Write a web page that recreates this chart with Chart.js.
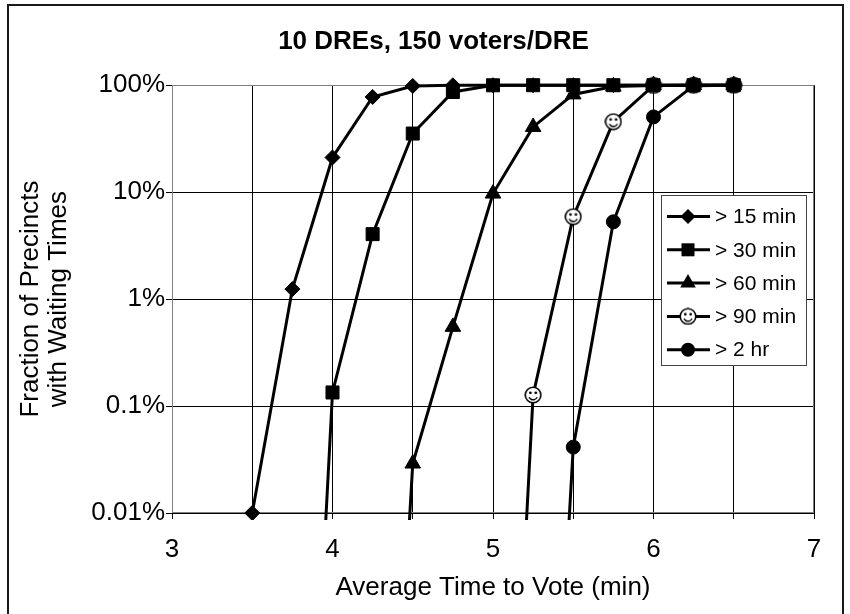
<!DOCTYPE html>
<html><head><meta charset="utf-8">
<script src="https://cdn.jsdelivr.net/npm/chart.js@4/dist/chart.umd.min.js"></script>
<style>html,body{margin:0;padding:0;background:#fff}#wrap{width:850px;height:614px}</style>
</head><body><div id="wrap"><canvas id="c" width="850" height="614"></canvas></div>
<script>
// ---- data ----
const titleText = '10 DREs, 150 voters/DRE';
const xTitle = 'Average Time to Vote (min)';
const yTitle = ['Fraction of Precincts', 'with Waiting Times'];
const seriesNames = ['> 15 min', '> 30 min', '> 60 min', '> 90 min', '> 2 hr'];
const x15 = [3.5, 3.75, 4.0, 4.25, 4.5, 4.75, 5.0, 5.25, 5.5, 5.75, 6.0, 6.25, 6.5];
const y15 = [0.01, 1.24, 21.1, 77.6, 98.4, 99.8, 100, 100, 100, 100, 100, 100, 100];
const x30 = [3.75, 4.0, 4.25, 4.5, 4.75, 5.0, 5.25, 5.5, 5.75, 6.0, 6.25, 6.5];
const y30 = [1e-8, 0.134, 4.05, 35.3, 86.4, 99.8, 100, 100, 100, 100, 100, 100];
const x60 = [4.25, 4.5, 4.75, 5.0, 5.25, 5.5, 5.75, 6.0, 6.25, 6.5];
const y60 = [1e-8, 0.029, 0.55, 9.7, 40.7, 82, 97, 99.5, 100, 100];
const x90 = [5.0, 5.25, 5.5, 5.75, 6.0, 6.25, 6.5];
const y90 = [1e-8, 0.127, 5.9, 45.6, 99.5, 100, 100];
const x120 = [5.25, 5.5, 5.75, 6.0, 6.25, 6.5];
const y120 = [1e-8, 0.0413, 5.28, 50.5, 99, 100];
const xTickValues = [3, 3.5, 4, 4.5, 5, 5.5, 6, 6.5, 7];
const xTickLabels = ['3', '', '4', '', '5', '', '6', '', '7'];
const yTickValues = [0.01, 0.1, 1, 10, 100];
const yTickLabels = ['0.01%', '0.1%', '1%', '10%', '100%'];

// ---- styling ----
const FONT = "'Liberation Sans', Arial, sans-serif";

function makeSmiley(d) {
  const c = document.createElement('canvas');
  c.width = d; c.height = d;
  const g = c.getContext('2d');
  const r = d / 2;
  g.beginPath(); g.arc(r, r, r - 1.2, 0, 2 * Math.PI);
  g.fillStyle = '#fff'; g.fill();
  g.lineWidth = 1.6; g.strokeStyle = '#000'; g.stroke();
  g.fillStyle = '#000';
  g.beginPath(); g.arc(r - 2.7, r - 2.2, 1.4, 0, 2 * Math.PI); g.fill();
  g.beginPath(); g.arc(r + 2.7, r - 2.2, 1.4, 0, 2 * Math.PI); g.fill();
  g.beginPath(); g.arc(r, r + 0.2, r * 0.5, 0.15 * Math.PI, 0.85 * Math.PI);
  g.lineWidth = 1.5; g.stroke();
  return c;
}
const smiley = makeSmiley(18);

const styles = [
  {style: 'rectRot', radius: 7.5},
  {style: 'rect', radius: 9.2},
  {style: 'triangle', radius: 9},
  {style: smiley, radius: 9},
  {style: 'circle', radius: 7}
];
const xs = [x15, x30, x60, x90, x120];
const ys = [y15, y30, y60, y90, y120];

const datasets = seriesNames.map((name, k) => ({
  label: name,
  data: xs[k].map((x, i) => ({x: x, y: ys[k][i]})),
  borderColor: '#000',
  backgroundColor: '#000',
  borderWidth: 3,
  tension: 0,
  pointStyle: styles[k].style,
  pointRadius: styles[k].radius,
  pointBackgroundColor: '#000',
  pointBorderColor: '#000',
  pointBorderWidth: 1,
  clip: {left: 12, top: 12, right: 12, bottom: 7}
}));

const framePlugin = {
  id: 'frame',
  beforeDraw(chart) {
    const ctx = chart.ctx;
    ctx.save();
    ctx.fillStyle = '#fff';
    ctx.fillRect(0, 0, chart.width, chart.height);
    ctx.restore();
  },
  beforeDatasetsDraw(chart) {
    const {ctx, chartArea: a} = chart;
    ctx.save();
    ctx.strokeStyle = '#808080';
    ctx.lineWidth = 1;
    const l = Math.round(a.left) + 0.5, t = Math.round(a.top) + 0.5;
    const r = Math.round(a.right) - 0.5, b = Math.round(a.bottom) - 0.5;
    ctx.strokeRect(l, t, r - l, b - t);
    ctx.restore();
  },
  afterDraw(chart) {
    const ctx = chart.ctx;
    ctx.save();
    // outer frame
    ctx.strokeStyle = '#1a1a1a';
    ctx.lineWidth = 2;
    ctx.strokeRect(8, 5, 835, 640);
    // legend box
    const lx = 661, ly = 195, lw = 145, lh = 170;
    ctx.fillStyle = '#fff';
    ctx.fillRect(lx, ly, lw, lh);
    ctx.strokeStyle = '#444';
    ctx.lineWidth = 1;
    ctx.strokeRect(lx + 0.5, ly + 0.5, lw, lh);
    chart.data.datasets.forEach((ds, k) => {
      const cy = 216.5 + k * 33.3;
      const cx = 688;
      ctx.strokeStyle = '#000';
      ctx.lineWidth = 3;
      ctx.beginPath(); ctx.moveTo(667, cy); ctx.lineTo(710, cy); ctx.stroke();
      ctx.fillStyle = '#000';
      const st = styles[k].style;
      ctx.beginPath();
      if (st === 'rectRot') {
        const h = 7.5;
        ctx.moveTo(cx - h, cy); ctx.lineTo(cx, cy - h); ctx.lineTo(cx + h, cy); ctx.lineTo(cx, cy + h); ctx.closePath(); ctx.fill();
      } else if (st === 'rect') {
        ctx.fillRect(cx - 6.5, cy - 6.5, 13, 13);
      } else if (st === 'triangle') {
        const r = 9;
        ctx.moveTo(cx, cy - r); ctx.lineTo(cx + r * 0.866, cy + r / 2); ctx.lineTo(cx - r * 0.866, cy + r / 2); ctx.closePath(); ctx.fill();
      } else if (st === 'circle') {
        ctx.arc(cx, cy, 7, 0, 2 * Math.PI); ctx.fill();
      } else {
        ctx.drawImage(st, cx - st.width / 2, cy - st.height / 2);
      }
      ctx.fillStyle = '#000';
      ctx.font = '21px ' + FONT;
      ctx.textBaseline = 'middle';
      ctx.textAlign = 'left';
      ctx.fillText(ds.label, 715, cy + 1);
    });
    ctx.restore();
  }
};

new Chart(document.getElementById('c'), {
  type: 'line',
  data: {datasets: datasets},
  options: {
    responsive: false,
    animation: false,
    events: [],
    layout: {padding: {left: 17, right: 0, top: 0, bottom: 0}},
    plugins: {
      legend: {display: false},
      tooltip: {enabled: false},
      title: {
        display: true, text: titleText, color: '#000',
        font: {family: FONT, size: 26, weight: 'bold', lineHeight: 1.2},
        padding: {top: 26, bottom: 28}
      }
    },
    scales: {
      x: {
        type: 'linear', min: 3, max: 7, position: 'bottom',
        afterBuildTicks: s => { s.ticks = xTickValues.map(v => ({value: v})); },
        ticks: {
          callback: (v, i) => xTickLabels[i],
          font: {family: FONT, size: 26}, color: '#000',
          padding: 15, maxRotation: 0, autoSkip: false
        },
        grid: {color: '#000', lineWidth: 1, tickLength: 6, drawTicks: true},
        border: {display: false},
        title: {
          display: true, text: xTitle, color: '#000',
          font: {family: FONT, size: 26, lineHeight: 1.1},
          padding: {top: 0, bottom: 12}
        },
        afterFit: s => { s.height = 101; }
      },
      y: {
        type: 'logarithmic', min: 0.01, max: 100, position: 'left',
        afterBuildTicks: s => { s.ticks = yTickValues.map(v => ({value: v})); },
        ticks: {
          callback: (v, i) => yTickLabels[i],
          font: {family: FONT, size: 26}, color: '#000',
          padding: 1, autoSkip: false
        },
        grid: {color: '#000', lineWidth: 1, tickLength: 6, drawTicks: true},
        border: {display: false},
        title: {
          display: true, text: yTitle, color: '#000',
          font: {family: FONT, size: 26, lineHeight: 1.08},
          padding: {top: 0, bottom: 0}
        },
        afterFit: s => { s.width = 155; }
      },
      y2: {
        type: 'linear', position: 'right', display: true,
        grid: {display: false}, ticks: {display: false}, border: {display: false},
        afterFit: s => { s.width = 36; }
      }
    }
  },
  plugins: [framePlugin]
});
</script>
</body></html>
